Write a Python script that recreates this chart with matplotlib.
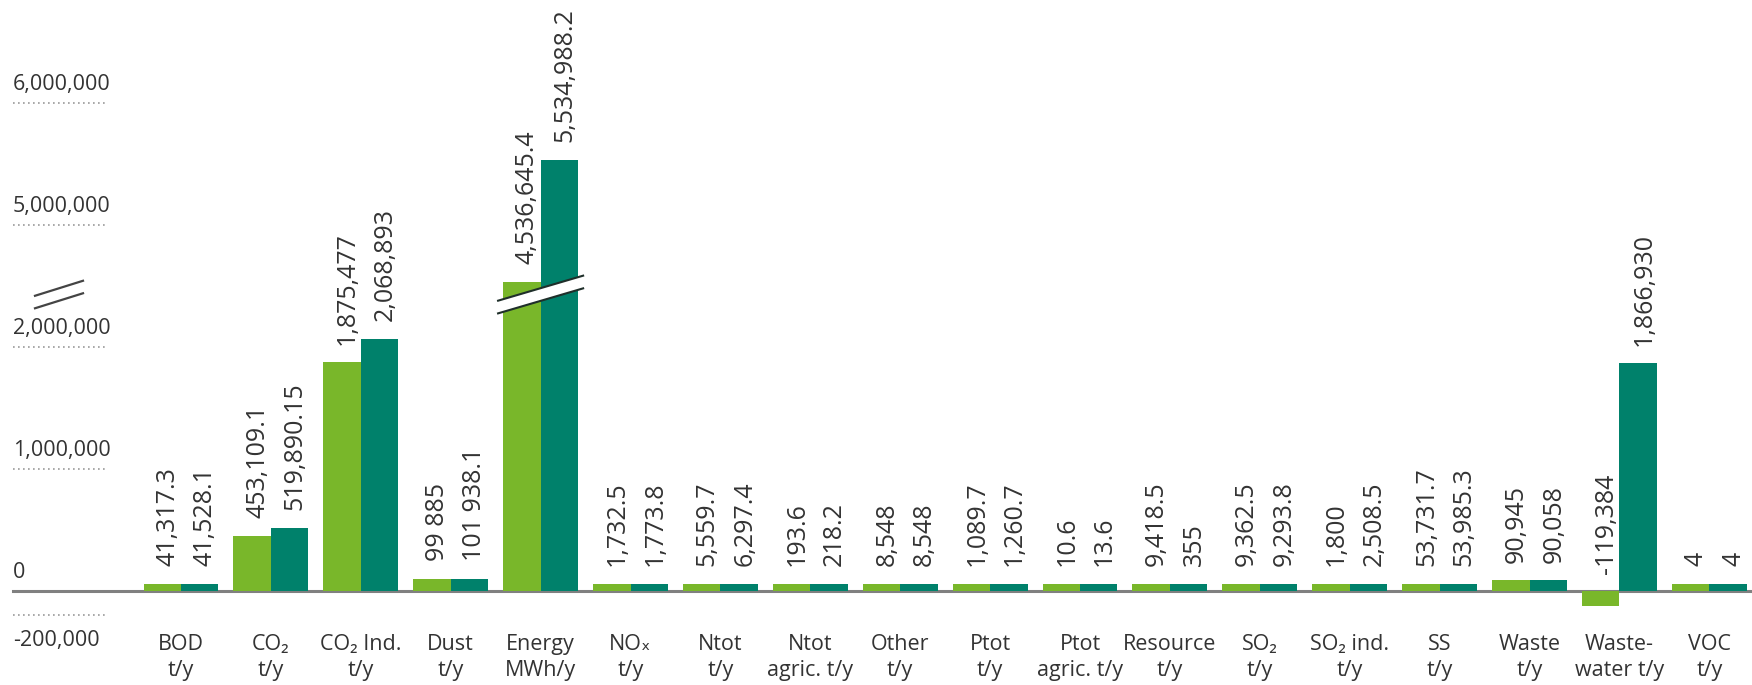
import numpy as np
import matplotlib
matplotlib.use('Agg')
import matplotlib.pyplot as plt
from matplotlib import font_manager
from matplotlib.patches import Polygon
from matplotlib.transforms import offset_copy

# categories, two lines each
cat_top = ['BOD', 'CO₂', 'CO₂ Ind.', 'Dust', 'Energy', 'NOₓ', 'Ntot', 'Ntot', 'Other',
           'Ptot', 'Ptot', 'Resource', 'SO₂', 'SO₂ ind.', 'SS', 'Waste', 'Waste-', 'VOC']
cat_bottom = ['t/y', 't/y', 't/y', 't/y', 'MWh/y', 't/y', 't/y', 'agric. t/y', 't/y',
              't/y', 'agric. t/y', 't/y', 't/y', 't/y', 't/y', 't/y', 'water t/y', 't/y']

# light green series / dark green series
light_vals = [41317.3, 453109.1, 1875477, 99885, 4536645.4, 1732.5, 5559.7, 193.6, 8548,
              1089.7, 10.6, 9418.5, 9362.5, 1800, 53731.7, 90945, -119384, 4]
dark_vals = [41528.1, 519890.15, 2068893, 101938.1, 5534988.2, 1773.8, 6297.4, 218.2, 8548,
             1260.7, 13.6, 355, 9293.8, 2508.5, 53985.3, 90058, 1866930, 4]
light_labels = ['41,317.3', '453,109.1', '1,875,477', '99 885', '4,536,645.4', '1,732.5',
                '5,559.7', '193.6', '8,548', '1,089.7', '10.6', '9,418.5', '9,362.5', '1,800',
                '53,731.7', '90,945', '-119,384', '4']
dark_labels = ['41,528.1', '519,890.15', '2,068,893', '101 938.1', '5,534,988.2', '1,773.8',
               '6,297.4', '218.2', '8,548', '1,260.7', '13.6', '355', '9,293.8', '2,508.5',
               '53,985.3', '90,058', '1,866,930', '4']

ytick_vals = [-200000, 0, 1000000, 2000000, 5000000, 6000000]
ytick_labels = ['-200,000', '0', '1,000,000', '2,000,000', '5,000,000', '6,000,000']

LIGHT = '#79b72a'
DARK = '#00816b'
TEXT = '#333333'

# condensed font for axis / category text if there is one
try:
    font_manager.findfont('Liberation Sans Narrow', fallback_to_default=False)
    label_font, label_size = 'Liberation Sans Narrow', 17.5
except ValueError:
    label_font, label_size = 'Open Sans', 15.5
label_family = [label_font, 'DejaVu Sans']
value_family = ['Open Sans', 'DejaVu Sans']

# broken y axis: cut 2.42M..4.44M down to a thin strip
GAP_LO, GAP_HI, GAP_SHOW = 2.42e6, 4.44e6, 0.02e6


def fwd(v):
    v = np.asarray(v, dtype=float)
    mid = GAP_LO + (v - GAP_LO) * GAP_SHOW / (GAP_HI - GAP_LO)
    return np.where(v <= GAP_LO, v,
                    np.where(v >= GAP_HI, v - (GAP_HI - GAP_LO) + GAP_SHOW, mid))


def inv(d):
    d = np.asarray(d, dtype=float)
    mid = GAP_LO + (d - GAP_LO) * (GAP_HI - GAP_LO) / GAP_SHOW
    return np.where(d <= GAP_LO, d,
                    np.where(d >= GAP_LO + GAP_SHOW, d + (GAP_HI - GAP_LO) - GAP_SHOW, mid))


W, H = 1752, 685
fig = plt.figure(figsize=(W / 100, H / 100), dpi=100)
ax = fig.add_axes([0, 0, 1, 1])
ax.set_yscale('function', functions=(fwd, inv))
ax.set_ylim(-770500, 6.844e6)
ax.set_xlim(-181 / 89.9, (W - 181) / 89.9)
ax.set_axis_off()

x = np.arange(len(cat_top))
w = 0.417
light = np.array(light_vals)
dark = np.array(dark_vals)
# tiny values still get a visible sliver, like the original
FLOOR = 60000
light_shown = np.where(light >= 0, np.maximum(light, FLOOR), light)
dark_shown = np.where(dark >= 0, np.maximum(dark, FLOOR), dark)

ax.axhline(0, xmin=13 / W, xmax=1, color='#808080', lw=2.2, zorder=1)
ax.bar(x - w / 2, light_shown, w, color=LIGHT, zorder=2)
ax.bar(x + w / 2, dark_shown, w, color=DARK, zorder=2)

for xs, shown, labels in [(x - w / 2, light_shown, light_labels), (x + w / 2, dark_shown, dark_labels)]:
    for xi, v, lab in zip(xs, shown, labels):
        ax.annotate(lab, (xi, max(v, 0)), xytext=(4, 12.5), textcoords='offset points',
                    rotation=90, ha='center', va='bottom', fontsize=18,
                    family=value_family, color=TEXT, zorder=4)

# break band across the Energy bars
ie = cat_top.index('Energy')
c = GAP_LO + GAP_SHOW / 2
half_w, rise, h = 0.473, 0.1025e6, 0.052e6
xl, xr = ie - half_w, ie + half_w
band = [(xl, c - rise - h), (xr, c + rise - h), (xr, c + rise + h), (xl, c - rise + h)]
ax.add_patch(Polygon([(bx, float(inv(by))) for bx, by in band], closed=True,
                     facecolor='white', edgecolor='none', zorder=3))
for s in (-h, h):
    ax.plot([xl, xr], inv([c - rise + s, c + rise + s]), color='#1f2f2a', lw=1.5, zorder=3.5)

# "//" mark on the y axis
ytrans = ax.get_yaxis_transform()
for s in (-0.0512e6, 0.0512e6):
    ax.plot([35 / W, 83 / W], inv([c - 0.0615e6 + s, c + 0.0615e6 + s]),
            transform=ytrans, color='#444444', lw=1.6)

# y labels with dotted rules
for v, lab in zip(ytick_vals, ytick_labels):
    if v != 0:
        ax.plot([13 / W, 106 / W], [v, v], transform=ytrans, color='#9a9a9a',
                lw=1.2, ls=(0, (1, 2)))
    dy = 18 if v >= 0 else -25
    ax.text(13 / W, v, lab, transform=offset_copy(ytrans, fig=fig, x=0, y=dy, units='dots'),
            ha='left', va='center', fontsize=label_size, family=label_family, color=TEXT)

# category labels
xtrans = ax.get_xaxis_transform()
for xi, t1, t2 in zip(x, cat_top, cat_bottom):
    ax.text(xi, (H - 650) / H, t1, transform=xtrans, ha='center', va='baseline',
            fontsize=label_size, family=label_family, color=TEXT)
    ax.text(xi, (H - 676) / H, t2, transform=xtrans, ha='center', va='baseline',
            fontsize=label_size, family=label_family, color=TEXT)

fig.savefig('out.png', dpi=100)
